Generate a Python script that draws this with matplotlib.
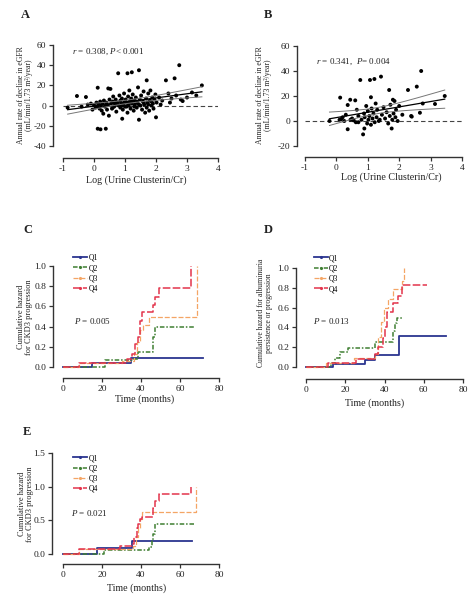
import numpy as np
import matplotlib
matplotlib.use('Agg')
import matplotlib.pyplot as plt
from matplotlib.lines import Line2D

plt.rcParams['font.family'] = ['Liberation Serif', 'DejaVu Serif']
plt.rcParams['mathtext.fontset'] = 'custom'
plt.rcParams['mathtext.rm'] = 'Liberation Serif'
plt.rcParams['mathtext.it'] = 'Liberation Serif:italic'
plt.rcParams['axes.unicode_minus'] = False

# ---------------- data: panel A (scatter) ----------------
a_x = [-0.85, -0.55, -0.26, -0.4, -0.2, -0.05, -0.1,
       0.0, 0.05, 0.08, 0.1, 0.12, 0.12, 0.15, 0.18, 0.2, 0.21, 0.22, 0.25, 0.28, 0.3,
       0.32, 0.35, 0.38, 0.4, 0.42, 0.45, 0.46, 0.48, 0.5, 0.4,
       0.53, 0.55, 0.58, 0.6, 0.62, 0.65, 0.68, 0.7, 0.72, 0.75, 0.78, 0.8, 0.82, 0.85,
       0.85, 0.88, 0.9, 0.91, 0.93, 0.95, 0.97, 0.98, 1.0, 0.6, 0.9, 0.7,
       1.02, 1.05, 1.08, 1.08, 1.1, 1.12, 1.14, 1.15, 1.18, 1.2, 1.22, 1.22, 1.25, 1.28,
       1.3, 1.32, 1.35, 1.38, 1.4, 1.42, 1.45, 1.45, 1.48, 1.5, 1.1, 1.3, 1.05, 1.45, 1.25,
       1.52, 1.55, 1.58, 1.6, 1.62, 1.65, 1.68, 1.7, 1.7, 1.72, 1.75, 1.78, 1.8, 1.82,
       1.85, 1.88, 1.9, 1.92, 1.95, 1.98, 2.0, 2.02, 1.6, 1.75, 1.85,
       2.1, 2.15, 2.2, 2.32, 2.4, 2.45, 2.5, 2.6, 2.65, 2.75, 2.8, 2.86, 3.0, 3.16, 3.3, 3.48]
a_y = [-2, 9.5, 8.5, -1, 1, -4, 2,
       0.5, -2, 3, -1, 17.7, -22.9, 1.5, -3, 4, -23.5, 0, -5, 2, -8,
       5, -1, -22.9, 3, -4, 0.5, 17, -10, 6, 1.5,
       16.5, 2, -3, 4, 9, -1, 1, 6, -6, 3, 32, 0, 10, -2,
       5, 2, 7, -13, -4, 1, 12, 4, -1, -2, 0, 2.5,
       6, 3, 32, -7, 9, 0, 15, 4, -3, 7, 33, 2, 11, -5,
       5, 1, 8, -2, 3, 18, 35, -14, 6, 0, 2, -1, -1, 1, 4.5,
       10, -4, 4, 14, 1, -7, 7, 25, -2, 3, 12, -5, 5, 15,
       0, 8, 2, -3, 6, 11, -11.6, 3, 3, 1, 4,
       8, 1, 5, 25, 12, 3, 7, 27, 10, 40, 6, 4.5, 8, 13, 10, 20]

# ---------------- data: panel B (scatter) ----------------
b_x = [-0.22, 0.12, 0.1, 0.2, 0.25, 0.3, 0.36, 0.36, 0.44, 0.5, 0.55, 0.6, 0.62, 0.65,
       0.7, 0.76, 0.8, 0.85, 0.89, 0.88, 0.9, 0.95, 0.98, 1.0, 1.02, 1.05, 1.07, 1.1,
       1.1, 1.12, 1.15, 1.18, 1.21, 1.22, 1.25, 1.28, 1.3, 1.35, 1.42, 1.45, 1.5, 1.55,
       1.6, 1.65, 1.68, 1.7, 1.72, 1.76, 1.78, 1.8, 1.82, 1.85, 1.88, 1.9, 1.95, 2.0,
       2.1, 2.28, 2.38, 2.4, 2.56, 2.66, 2.7, 2.75, 3.14, 3.45, 0.45, 0.15, 0.7, 1.38]
b_y = [0, 18.7, 1, 3, 0, 5, -6.6, 12.8, 17, 2, 0.5, 16.5, -1, 9,
       4, 32.8, 1, -10.7, -6, 6, 3, 12, -2, 8, 1, 4, 32.8, 19,
       -3, 10, 2, 6, 33.6, -1, 14, 3, 9, 0, 35.5, 5, 11, 2,
       7, -2, 24.8, 4, 13, -6, 1, 17, 6, 16, 3, 9, 0, 12,
       5, 24.8, 4, 3.5, 27.5, 6.6, 40, 14, 13.6, 20, 1, 1.5, -1, 1]

# ---------------- data: Kaplan-Meier style cumulative hazard ----------------
groups = ['Q1', 'Q2', 'Q3', 'Q4']

c_t = {'Q1': [0, 14.7, 35, 72],
       'Q2': [0, 21.5, 36, 38.3, 46.3, 47.2, 67.4],
       'Q3': [0, 8, 30, 36.5, 38, 39.5, 41, 44, 68.5],
       'Q4': [0, 8, 33, 35.6, 37, 38.5, 39.5, 40.7, 46.3, 47.2, 49.2, 65.6]}
c_v = {'Q1': [0, 0.035, 0.085, 0.085],
       'Q2': [0, 0.065, 0.08, 0.15, 0.30, 0.40, 0.40],
       'Q3': [0, 0.04, 0.06, 0.13, 0.25, 0.37, 0.42, 0.50, 1.0],
       'Q4': [0, 0.04, 0.08, 0.13, 0.23, 0.30, 0.46, 0.54, 0.61, 0.69, 0.78, 1.0]}

d_t = {'Q1': [0, 14, 30, 35, 47.5, 71.5],
       'Q2': [0, 12.7, 15, 17.5, 21.2, 35.2, 44.2, 45.2, 46.5, 49.3],
       'Q3': [0, 10.2, 24.5, 35.2, 36.5, 38, 39.5, 41.7, 44.2, 48.8, 49.7],
       'Q4': [0, 11, 25.5, 35.2, 36.5, 39, 40.3, 41.2, 44.2, 46.7, 48.8, 61.5]}
d_v = {'Q1': [0, 0.035, 0.075, 0.125, 0.31, 0.31],
       'Q2': [0, 0.04, 0.09, 0.15, 0.19, 0.25, 0.36, 0.44, 0.50, 0.50],
       'Q3': [0, 0.04, 0.09, 0.13, 0.30, 0.45, 0.60, 0.69, 0.79, 0.87, 1.0],
       'Q4': [0, 0.04, 0.085, 0.13, 0.20, 0.29, 0.40, 0.56, 0.65, 0.72, 0.83, 0.83]}

e_t = {'Q1': [0, 17.3, 35.5, 66.3],
       'Q2': [0, 21.2, 44.3, 45.5, 46.3, 47.2, 67.4],
       'Q3': [0, 8, 36, 37.5, 38.5, 39.5, 40.7, 68],
       'Q4': [0, 8, 29.2, 35.5, 36.5, 37.8, 38.6, 39.5, 40.7, 46.3, 47.2, 49.2, 65.6]}
e_v = {'Q1': [0, 0.085, 0.19, 0.19],
       'Q2': [0, 0.06, 0.10, 0.19, 0.30, 0.45, 0.45],
       'Q3': [0, 0.07, 0.12, 0.25, 0.38, 0.52, 0.62, 1.0],
       'Q4': [0, 0.07, 0.12, 0.15, 0.25, 0.38, 0.45, 0.52, 0.55, 0.69, 0.78, 0.89, 1.0]}

colors = {'Q1': '#2b3590', 'Q2': '#3f7f32', 'Q3': '#f4a565', 'Q4': '#e3344c'}
styles = {'Q1': '-', 'Q2': (0, (3, 1.2, 1, 1.2)), 'Q3': (0, (4, 1.5)), 'Q4': (0, (5, 1.5))}
widths = {'Q1': 1.3, 'Q2': 1.1, 'Q3': 0.9, 'Q4': 1.1}

W, H = 476, 609
fig = plt.figure(figsize=(W / 100, H / 100), dpi=100)
fig.patch.set_facecolor('white')

TXT = '#222222'


def add_axes_px(x0, x1, ytop, ybot):
    return fig.add_axes([x0 / W, 1 - ybot / H, (x1 - x0) / W, (ybot - ytop) / H])


def prism(ax, left_off, bottom_off):
    for s in ['top', 'right']:
        ax.spines[s].set_visible(False)
    ax.spines['left'].set_position(('outward', left_off * 0.72))
    ax.spines['bottom'].set_position(('outward', bottom_off * 0.72))
    for s in ['left', 'bottom']:
        ax.spines[s].set_linewidth(1.0)
        ax.spines[s].set_color('#333333')
    ax.tick_params(direction='out', length=3, width=0.9, colors='#333333',
                   labelsize=6.8, pad=2, labelcolor=TXT)
    ax.set_facecolor('none')


def regress(x, y):
    x = np.asarray(x, float)
    y = np.asarray(y, float)
    n = len(x)
    b, a = np.polyfit(x, y, 1)
    xs = np.linspace(x.min(), x.max(), 100)
    yhat = a + b * xs
    resid = y - (a + b * x)
    s = np.sqrt(np.sum(resid ** 2) / (n - 2))
    sxx = np.sum((x - x.mean()) ** 2)
    se = s * np.sqrt(1.0 / n + (xs - x.mean()) ** 2 / sxx)
    t = 1.98
    return xs, yhat, yhat - t * se, yhat + t * se


def scatter_panel(ax, x, y):
    ax.axhline(0, color='#444444', lw=0.8, ls=(0, (4, 2.5)), zorder=1)
    ax.scatter(x, y, s=8, color='black', edgecolors='none', zorder=3)
    xs, yh, lo, hi = regress(x, y)
    ax.plot(xs, yh, color='black', lw=0.9, zorder=4)
    ax.plot(xs, lo, color='#777777', lw=0.7, zorder=4)
    ax.plot(xs, hi, color='#777777', lw=0.7, zorder=4)


def km_panel(ax, tdict, vdict):
    for g in groups:
        ax.step(tdict[g], vdict[g], where='post', color=colors[g], ls=styles[g],
                lw=widths[g], clip_on=False, zorder=3)


def km_legend(ax, bx, by):
    handles = [Line2D([0], [0], color=colors[g], ls=styles[g], lw=widths[g],
                      marker='.', markersize=2.5) for g in groups]
    ax.legend(handles, groups, loc='upper left', bbox_to_anchor=(bx, by),
              frameon=False, fontsize=5.5, handlelength=1.8, handletextpad=0.2,
              labelspacing=0.3, borderpad=0, borderaxespad=0)


int_fmt = matplotlib.ticker.FormatStrFormatter('%d')
one_fmt = matplotlib.ticker.FormatStrFormatter('%.1f')

# ---------------- Panel A ----------------
axA = add_axes_px(63, 218, 45, 146)
axA.set_xlim(-1, 4)
axA.set_ylim(-40, 60)
prism(axA, 10, 12)
axA.set_xticks([-1, 0, 1, 2, 3, 4])
axA.set_yticks([-40, -20, 0, 20, 40, 60])
axA.xaxis.set_major_formatter(int_fmt)
axA.yaxis.set_major_formatter(int_fmt)
scatter_panel(axA, a_x, a_y)
axA.text(-0.72, 53, r'$r$ = 0.308, $P$< 0.001', fontsize=6.5, color=TXT, va='center')

# ---------------- Panel B ----------------
axB = add_axes_px(305, 462, 46, 146)
axB.set_xlim(-1, 4)
axB.set_ylim(-20, 60)
prism(axB, 8, 11)
axB.set_xticks([-1, 0, 1, 2, 3, 4])
axB.set_yticks([-20, 0, 20, 40, 60])
axB.xaxis.set_major_formatter(int_fmt)
axB.yaxis.set_major_formatter(int_fmt)
scatter_panel(axB, b_x, b_y)
axB.text(-0.65, 47, r'$r$ = 0.341,  $P$= 0.004', fontsize=6.5, color=TXT, va='center')

# ---------------- Panel C ----------------
axC = add_axes_px(63, 219, 266, 367)
axC.set_xlim(0, 80)
axC.set_ylim(0, 1.0)
prism(axC, 10, 11)
axC.set_xticks([0, 20, 40, 60, 80])
axC.set_yticks([0, 0.2, 0.4, 0.6, 0.8, 1.0])
axC.yaxis.set_major_formatter(one_fmt)
km_panel(axC, c_t, c_v)
km_legend(axC, 0.064, 1.12)
axC.text(5.6, 0.455, r'$P$ = 0.005', fontsize=6.5, color=TXT, va='center')

# ---------------- Panel D ----------------
axD = add_axes_px(306, 463, 268, 367)
axD.set_xlim(0, 80)
axD.set_ylim(0, 1.0)
prism(axD, 10, 12)
axD.set_xticks([0, 20, 40, 60, 80])
axD.set_yticks([0, 0.2, 0.4, 0.6, 0.8, 1.0])
axD.yaxis.set_major_formatter(one_fmt)
km_panel(axD, d_t, d_v)
km_legend(axD, 0.05, 1.14)
axD.text(3.6, 0.46, r'$P$ = 0.013', fontsize=6.5, color=TXT, va='center')

# ---------------- Panel E ----------------
axE = add_axes_px(63, 219, 453, 554)
axE.set_xlim(0, 80)
axE.set_ylim(0, 1.5)
prism(axE, 11, 10)
axE.set_xticks([0, 20, 40, 60, 80])
axE.set_yticks([0, 0.5, 1.0, 1.5])
axE.yaxis.set_major_formatter(one_fmt)
km_panel(axE, e_t, e_v)
km_legend(axE, 0.064, 0.99)
axE.text(4, 0.61, r'$P$ = 0.021', fontsize=6.5, color=TXT, va='center')


# ---------------- labels ----------------
def ftext(x, y, s, **kw):
    fig.text(x / W, 1 - y / H, s, color=TXT, **kw)


for lab, (x, y) in {'A': (25, 15), 'B': (268, 15), 'C': (28, 230),
                    'D': (268, 230), 'E': (27, 432)}.items():
    ftext(x, y, lab, fontsize=9, fontweight='bold', ha='center', va='center')

ylab_a = 'Annual rate of decline in eGFR\n(mL/min/1.73 m\u00b2/year)'
ftext(25, 95, ylab_a, fontsize=5.6, rotation=90, ha='center', va='center', linespacing=1.0)
ftext(264, 95, ylab_a, fontsize=5.6, rotation=90, ha='center', va='center', linespacing=1.0)
ylab_c = 'Cumulative hazard\nfor CKD3 progression'
ftext(25, 317, ylab_c, fontsize=6, rotation=90, ha='center', va='center', linespacing=1.0)
ftext(265, 313, 'Cumulative hazard for albuminuria\npersistence or progression',
      fontsize=5.5, rotation=90, ha='center', va='center', linespacing=1.0)
ftext(25.5, 504, ylab_c, fontsize=6, rotation=90, ha='center', va='center', linespacing=1.0)

ftext(136, 180, 'Log (Urine Clusterin/Cr)', fontsize=7.2, ha='center', va='center')
ftext(391, 177, 'Log (Urine Clusterin/Cr)', fontsize=7.2, ha='center', va='center')
ftext(145, 399, 'Time (months)', fontsize=7.2, ha='center', va='center')
ftext(375, 403, 'Time (months)', fontsize=7.2, ha='center', va='center')
ftext(137, 588, 'Time (months)', fontsize=7.2, ha='center', va='center')

fig.savefig('out.png', dpi=100, facecolor='white')
